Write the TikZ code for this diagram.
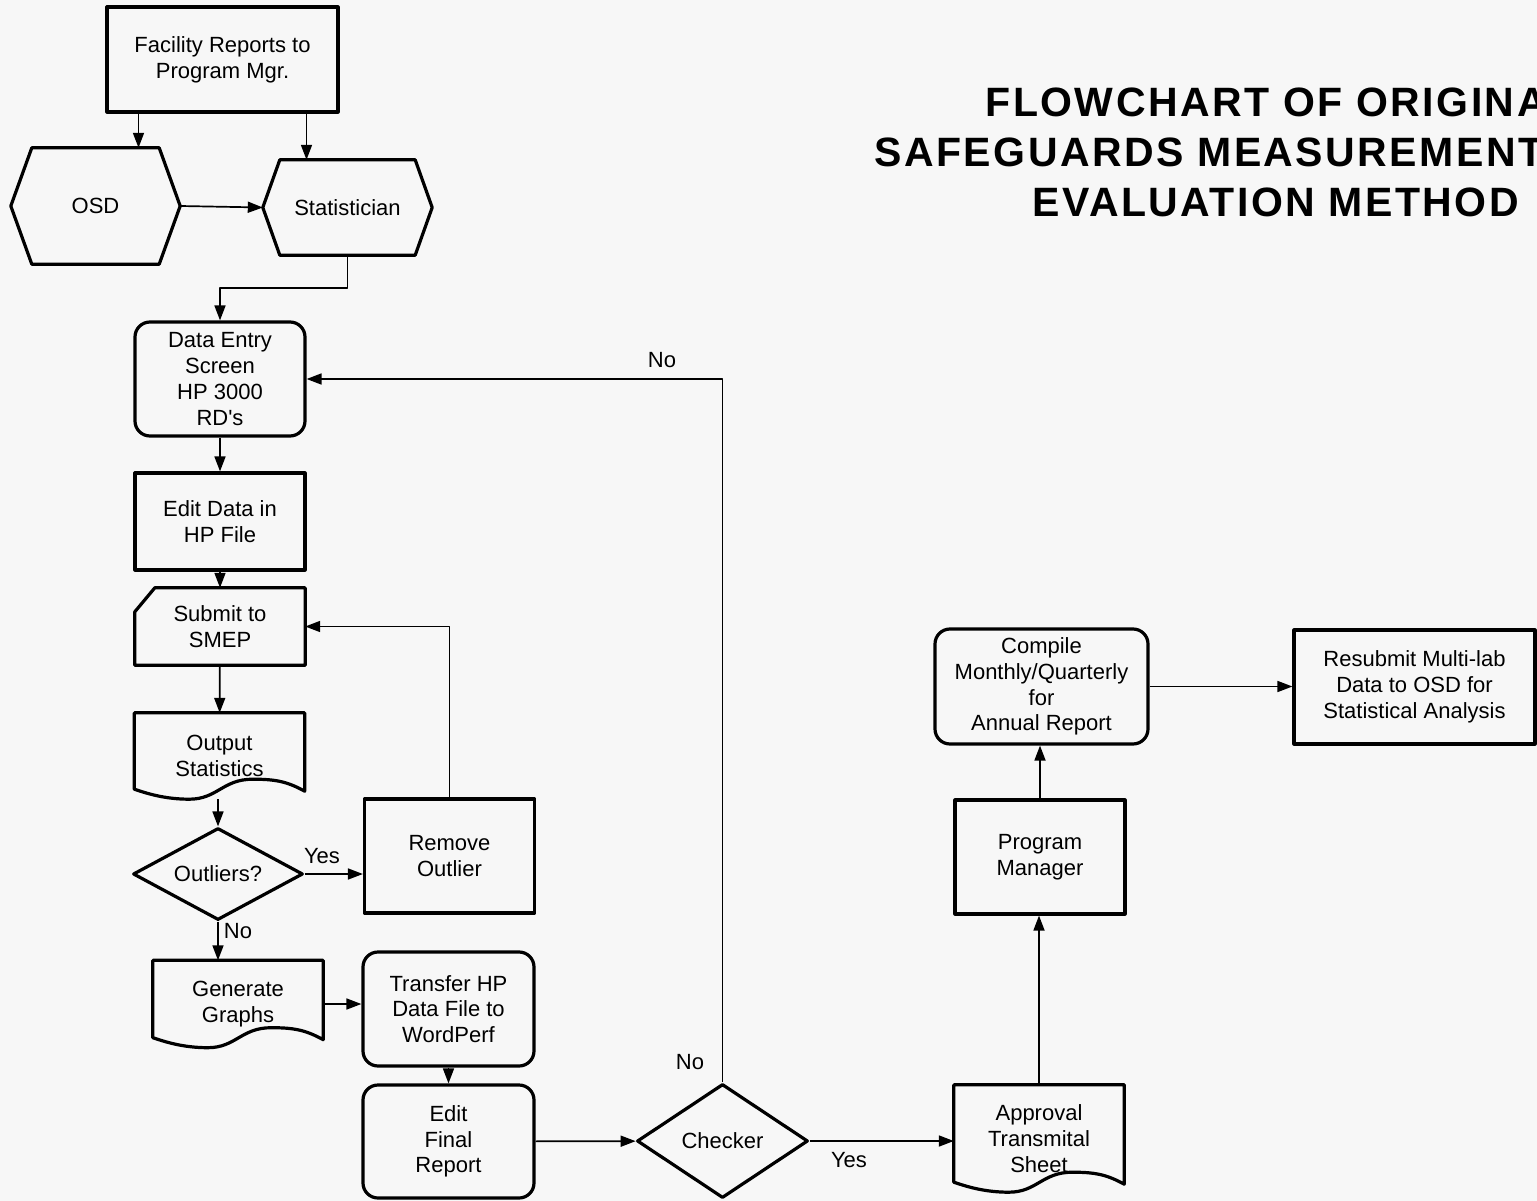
\documentclass[tikz,border=0pt]{standalone}
\usepackage{fontspec}
\setmainfont[Ligatures=TeXOff]{Liberation Sans}
\newfontfamily\titlefam[LetterSpace=6.0]{Liberation Sans}
\usetikzlibrary{arrows.meta,shapes.geometric,calc}

% outlines drawn round plain (undrawn) nodes
\newcommand{\docoutline}[1]{%
  \draw[boxline] (#1.north west) -- (#1.north east) -- ($(#1.south east)+(0,-8)$)
    .. controls +(-18,-10) and +(22,0) .. ($(#1.south east)+(-52,-20)$)
    .. controls +(-30,0) and +(28,0) .. ($(#1.south west)+(55,0)$)
    .. controls +(-25,0) and +(12,4) .. ($(#1.south west)+(0,-10)$) -- cycle;}
\newcommand{\hexoutline}[2]{%
  \draw[boxline] (#1.west) -- ($(#1.north west)+(#2,0)$) -- ($(#1.north east)+(-#2,0)$)
    -- (#1.east) -- ($(#1.south east)+(-#2,0)$) -- ($(#1.south west)+(#2,0)$) -- cycle;}
\newcommand{\manoutline}[1]{%
  \draw[boxline] ($(#1.north west)+(0,24)$) -- ($(#1.north west)+(20,0)$) -- (#1.north east)
    -- (#1.south east) -- (#1.south west) -- cycle;}
\newcommand{\bodysize}{\fontsize{22}{25.7}\selectfont}

\begin{document}
\begin{tikzpicture}[x=1pt,y=-1pt,line join=round,
  every node/.style={font=\bodysize},
  boxline/.style={line width=3.2pt},
  flow/.style={line width=1.7pt,-{Triangle[length=15pt,width=11pt]}},
  proc/.style={draw,boxline,minimum width=\boxW pt,minimum height=\boxH pt,inner sep=2pt,align=center},
  rproc/.style={proc,rounded corners=15pt},
  shell/.style={minimum width=\boxW pt,inner sep=0pt,align=center},
  decide/.style={draw,boxline,diamond,minimum width=\boxW pt,inner sep=0pt,align=center},
  ttl/.style={anchor=west,font=\titlefam\bfseries\fontsize{41}{50}\selectfont}]

  % ---- sizes (pixels of the sheet) ----
  \def\boxW{170}     % usual box width
  \def\boxH{114}     % usual box height

  % ---- sheet ----
  \path[fill=black!3,use as bounding box] (0,0) rectangle (1537,1201);
  \clip (0,0) rectangle (1537,1201);

  % ---- title ----
  \node[ttl] (title1) at (982,102) {FLOWCHART OF ORIGINA};
  \node[ttl] (title2) at (871,152) {SAFEGUARDS MEASUREMENT};
  \node[ttl] (title3) at (1029,202) {EVALUATION METHOD};

  % ---- top: reports, OSD, statistician ----
  \node[proc,minimum width=231pt,minimum height=105pt] (facility) at (222.5,59.5) {Facility Reports to\\Program Mgr.};
  \node[shell,minimum width=169pt,minimum height=116pt] (osd) at (95.5,206) {OSD};
  \node[shell,minimum width=169pt,minimum height=95pt] (stat) at (347.5,207.5) {Statistician};
  \hexoutline{osd}{21}
  \hexoutline{stat}{17}

  % ---- left column ----
  \node[rproc] (entry) at (220,379) {Data Entry\\Screen\\HP 3000\\RD's};
  \node[proc,minimum height=97pt] (editd) at (220,521.5) {Edit Data in\\HP File};
  \node[shell,minimum height=77pt] (submit) at (220,626.5) {Submit to\\SMEP};
  \manoutline{submit}
  \node[shell,minimum height=86pt] (outst) at (219.5,756) {Output\\Statistics};
  \docoutline{outst}
  \node[decide,aspect=1.85,minimum height=92pt] (outl) at (218,874) {Outliers?};
  \node[proc] (remove) at (449.5,856) {Remove\\Outlier};
  \node[shell,minimum height=87pt] (gen) at (238,1004) {Generate\\Graphs};
  \docoutline{gen}

  % ---- bottom row ----
  \node[rproc,minimum width=171pt] (transfer) at (448.5,1009) {Transfer HP\\Data File to\\WordPerf};
  \node[rproc,minimum width=171pt,minimum height=113pt] (editf) at (448.5,1141.5) {Edit\\Final\\Report};
  \node[decide,aspect=1.5,minimum width=171pt,minimum height=114pt] (checker) at (722.5,1141) {Checker};
  \node[shell,minimum height=107pt] (appr) at (1039,1138.5) {Approval\\Transmital\\Sheet};
  \docoutline{appr}

  % ---- right column ----
  \node[proc] (pm) at (1040,857) {Program\\Manager};
  \node[rproc,minimum width=213pt,minimum height=115pt] (comp) at (1041.5,686.5) {Compile\\Monthly/Quarterly\\for\\Annual Report};
  \node[proc,minimum width=241pt] (resub) at (1414.5,687) {Resubmit Multi-lab\\Data to OSD for\\Statistical Analysis};

  % ---- branch labels ----
  \node (yes1) at (322,856) {Yes};
  \node (no1) at (238,931) {No};
  \node (no2) at (662,360) {No};
  \node (no3) at (690,1062) {No};
  \node (yes2) at (849,1160) {Yes};

  % ---- connectors ----
  \draw[flow] ([xshift=-84pt]facility.south) -- ([xshift=-84pt]facility.south |- osd.north);
  \draw[flow] ([xshift=84pt]facility.south) -- ([xshift=84pt]facility.south |- stat.north);
  \draw[flow] (osd.east) -- (stat.west);
  \draw[flow] (stat.south) -- ++(0,33) -| (entry.north);
  \draw[flow] (entry) -- (editd);
  \draw[flow] (editd) -- (submit);
  \draw[flow] (submit) -- (outst);
  \draw[flow] (outst.south -| outl.north) -- (outl.north);
  \draw[flow] (outl.east) -- (outl.east -| remove.west);
  \draw[flow] (remove.north) |- (submit.east);
  \draw[flow] (outl.south) -- (outl.south |- gen.north);
  \draw[flow] (gen.east) -- (gen.east -| transfer.west);
  \draw[flow] (transfer) -- (editf);
  \draw[flow] (editf) -- (checker);
  \draw[flow] (checker.north) |- (entry.east);
  \draw[flow] (checker.east) -- (checker.east -| appr.west);
  \draw[flow] (appr.north) -- (appr.north |- pm.south);
  \draw[flow] (pm.north) -- (pm.north |- comp.south);
  \draw[flow] (comp.east) -- (comp.east -| resub.west);

\end{tikzpicture}
\end{document}
